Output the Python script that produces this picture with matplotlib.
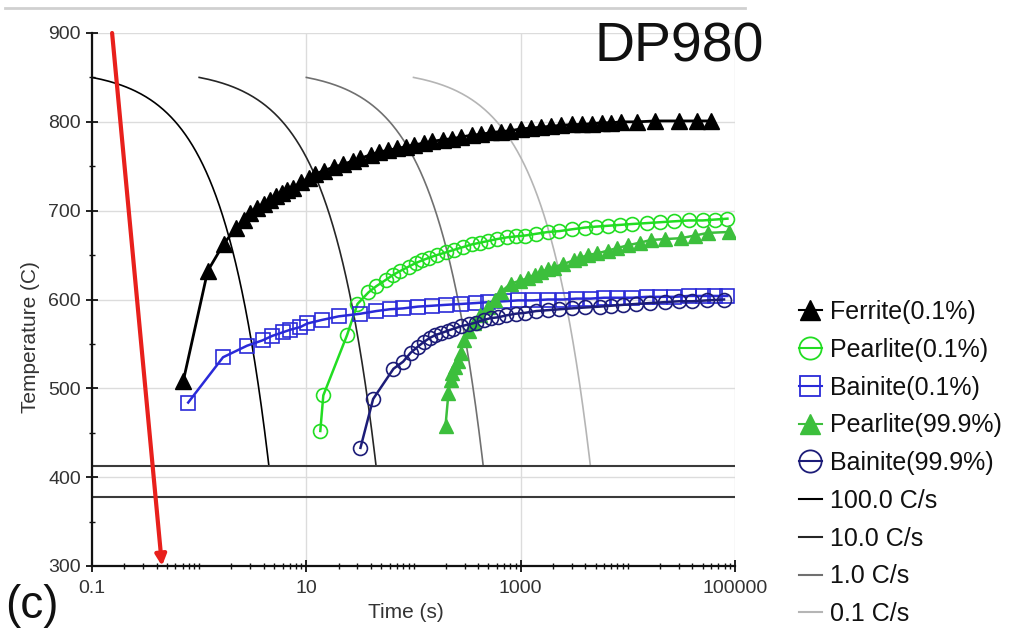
import matplotlib
matplotlib.use("Agg")
import matplotlib.pyplot as plt
from matplotlib.lines import Line2D
from matplotlib.ticker import LogLocator, FixedLocator, NullFormatter
import numpy as np

plt.rcParams['font.family'] = ['Liberation Sans', 'DejaVu Sans']

# ---------------- data ----------------
ferrite_t = [0.71, 1.2, 1.7, 2.2, 2.6, 3.0, 3.5, 4.0, 4.6, 5.2, 5.9, 6.6, 7.5, 9, 10.5, 12, 14.5,
             18, 22, 27, 32, 40, 48, 58, 70, 85, 100, 125, 150, 190, 230, 280, 350, 430, 530,
             650, 800, 1000, 1250, 1550, 1900, 2400, 3000, 3700, 4600, 5700, 7000, 8700,
             12300, 18000, 30000, 44000, 60000]
ferrite_T = [508, 632, 663, 680, 690, 697, 703, 708, 712, 716, 720, 723, 726, 732, 737, 741, 745,
             749, 752, 756, 759, 763, 766, 768, 770, 772, 774, 776, 778, 780, 781, 783, 785, 786, 788,
             789, 790, 792, 793, 794, 795, 796, 797, 797, 798, 799, 799, 800,
             800, 801, 801, 801, 801]

pearlite01_t = [13.5, 14.4, 24, 30, 38, 45, 55, 65, 75, 90, 105, 120, 140, 165, 200, 240, 290, 350,
                420, 500, 600, 750, 900, 1100, 1400, 1800, 2300, 3000, 4000, 5000, 6500, 8500,
                11000, 15000, 20000, 27000, 37000, 50000, 65000, 85000]
pearlite01_T = [452, 492, 560, 595, 608, 615, 622, 628, 632, 637, 641, 644, 647, 650, 653, 656, 659, 662,
                664, 666, 668, 670, 671, 672, 674, 676, 677, 679, 681, 682, 683, 684,
                685, 686, 687, 688, 689, 689, 690, 691]

bainite01_t = [0.79, 1.67, 2.8, 3.9, 4.8, 6.0, 7.1, 8.8, 10.2, 14, 20, 32, 45, 60, 80, 110, 150, 200,
               280, 380, 500, 700, 950, 1300, 1800, 2500, 3300, 4500, 6000, 8000, 11000, 15000,
               20000, 27000, 37000, 50000, 65000, 85000]
bainite01_T = [484, 535, 548, 554, 559, 563, 566, 569, 573, 577, 581, 584, 587, 589, 590, 592, 593, 594,
               595, 596, 597, 598, 599, 599, 600, 600, 601, 601, 602, 602, 602, 603,
               603, 603, 604, 604, 604, 604]

pearlite999_t = [199, 212, 222, 231, 245, 258, 275, 293, 330, 364, 420, 492, 570, 650, 807, 980, 1163,
                 1350, 1538, 1800, 2034, 2500, 3126, 3600, 4227, 5200, 6505, 8000, 10000, 13000,
                 16400, 22000, 31300, 42000, 56000, 88000]
pearlite999_T = [458, 495, 509, 517, 524, 531, 540, 554, 565, 573, 582, 591, 600, 608, 618, 621, 624,
                 628, 631, 634, 636, 640, 644, 647, 650, 652, 655, 658, 661, 664,
                 667, 668, 669, 672, 675, 676]

bainite999_t = [32, 42, 65, 80, 94, 110, 124, 143, 160, 180, 210, 235, 280, 330, 380, 450, 525,
                620, 725, 900, 1100, 1400, 1800, 2300, 3000, 4000, 5500, 7000, 9000, 12000,
                16000, 22000, 30000, 40000, 55000, 79000]
bainite999_T = [433, 488, 522, 530, 540, 547, 552, 557, 560, 562, 565, 567, 570, 572, 574, 577, 579,
                580, 582, 584, 585, 587, 588, 589, 590, 591, 592, 593, 594, 595,
                596, 597, 598, 598, 599, 600]

cooling_rates = [100.0, 10.0, 1.0, 0.1]          # C/s
cooling_labels = ['100.0 C/s', '10.0 C/s', '1.0 C/s', '0.1 C/s']
cooling_start_T = 850
cooling_end_T = 413
hline_T = [413, 378]

arrow_start = (0.154, 900)
arrow_end = (0.45, 300)

x_ticks = [0.1, 10, 1000, 100000]
x_ticklabels = ['0.1', '10', '1000', '100000']
y_ticks = [300, 400, 500, 600, 700, 800, 900]

# ---------------- figure ----------------
fig = plt.figure(figsize=(10.10, 6.31), dpi=100)
ax = fig.add_axes([92 / 1010, 1 - 566 / 631, (735 - 92) / 1010, (566 - 33) / 631])
ax.set_xscale('log')
ax.set_xlim(0.1, 100000)
ax.set_ylim(300, 900)

ax.set_xticks(x_ticks)
ax.set_xticklabels(x_ticklabels)
ax.xaxis.set_minor_locator(LogLocator(base=10, subs=np.arange(1, 10), numticks=50))
ax.xaxis.set_minor_formatter(NullFormatter())
ax.set_yticks(y_ticks)
ax.yaxis.set_minor_locator(FixedLocator([350, 450, 550, 650, 750, 850]))
ax.grid(True, which='major', color='#dcdcdc', lw=1.0, zorder=0)
ax.set_axisbelow(True)

for s in ['top', 'right']:
    ax.spines[s].set_visible(False)
for s in ['left', 'bottom']:
    ax.spines[s].set_linewidth(1.6)
    ax.spines[s].set_color('#111111')

ax.tick_params(axis='both', which='major', direction='inout', length=8, width=1.3,
               labelsize=14, labelcolor='#333333', colors='#111111')
ax.tick_params(axis='both', which='minor', direction='inout', length=5, width=1.0, colors='#111111')
for lbl in ax.get_xticklabels() + ax.get_yticklabels():
    lbl.set_color('#333333')
ax.tick_params(axis='x', pad=6)
ax.tick_params(axis='y', pad=4)

# cooling curves: constant-rate cooling from 850 C down to 413 C
cool_colors = ['#000000', '#262626', '#707070', '#b5b5b5']
for rate, col in zip(cooling_rates, cool_colors):
    t0 = 10.0 / rate
    t1 = t0 + (cooling_start_T - cooling_end_T) / rate
    tt = np.linspace(t0, t1, 400)
    TT = cooling_start_T - rate * (tt - t0)
    ax.plot(tt, TT, color=col, lw=1.2, zorder=2)

for h in hline_T:
    ax.axhline(h, color='#3a3a3a', lw=1.5, zorder=2)

c_ferr = '#000000'
c_p01 = '#22dd22'
c_b01 = '#2a2ad8'
c_p999 = '#3cbf3c'
c_b999 = '#1c1c78'

ax.plot(ferrite_t, ferrite_T, color=c_ferr, lw=2.0, marker='^', ms=11, mfc=c_ferr, mec=c_ferr, zorder=5)
ax.plot(pearlite01_t, pearlite01_T, color=c_p01, lw=1.8, marker='o', ms=10, mfc='none', mec=c_p01,
        mew=1.2, zorder=4)
ax.plot(bainite01_t, bainite01_T, color=c_b01, lw=1.8, marker='s', ms=9.5, mfc='none', mec=c_b01,
        mew=1.2, zorder=4)
ax.plot(pearlite999_t, pearlite999_T, color=c_p999, lw=1.8, marker='^', ms=10, mfc=c_p999, mec=c_p999,
        zorder=4)
ax.plot(bainite999_t, bainite999_T, color=c_b999, lw=1.8, marker='o', ms=10, mfc='none', mec=c_b999,
        mew=1.2, zorder=4)

ax.annotate('', xy=arrow_end, xytext=arrow_start,
            arrowprops=dict(arrowstyle='-|>', color='#e8201c', lw=3.0, mutation_scale=16,
                            shrinkA=0, shrinkB=0), zorder=6, annotation_clip=False)

ax.set_xlabel('Time (s)', fontsize=15, color='#333333')
ax.set_ylabel('Temperature (C)', fontsize=15, color='#333333')
ax.xaxis.set_label_coords((406 - 92) / 643, -(613 - 566) / 533)
ax.yaxis.set_label_coords((30 - 92) / 643, (566 - 337) / 533)
ax.xaxis.label.set_va('center')
ax.yaxis.label.set_va('center')

fig.text(679 / 1010, 1 - 47 / 631, 'DP980', fontsize=40, ha='center', va='center', color='#111111')
fig.text(32 / 1010, 1 - 606 / 631, '(c)', fontsize=33, ha='center', va='center', color='#111111')

fig.add_artist(Line2D([5 / 1010, 745 / 1010], [1 - 8 / 631, 1 - 8 / 631], color='#d0d0d0', lw=2.0))

handles = [
    Line2D([], [], color=c_ferr, lw=1.5, marker='^', ms=15, mfc=c_ferr, mec=c_ferr),
    Line2D([], [], color=c_p01, lw=1.5, marker='o', ms=16, mfc='none', mec=c_p01, mew=1.3),
    Line2D([], [], color=c_b01, lw=1.5, marker='s', ms=15, mfc='none', mec=c_b01, mew=1.3),
    Line2D([], [], color=c_p999, lw=1.5, marker='^', ms=15, mfc=c_p999, mec=c_p999),
    Line2D([], [], color=c_b999, lw=1.5, marker='o', ms=16, mfc='none', mec=c_b999, mew=1.3),
] + [Line2D([], [], color=c, lw=1.5) for c in cool_colors]
labels = ['Ferrite(0.1%)', 'Pearlite(0.1%)', 'Bainite(0.1%)', 'Pearlite(99.9%)', 'Bainite(99.9%)'] + cooling_labels
fig.legend(handles, labels, loc='upper left', bbox_to_anchor=(799 / 1010, 1 - 300 / 631),
           frameon=False, fontsize=18, handlelength=0.9, handletextpad=0.35, labelspacing=0.55,
           borderpad=0, borderaxespad=0, labelcolor='#111111')

fig.savefig('out.png', dpi=100)
